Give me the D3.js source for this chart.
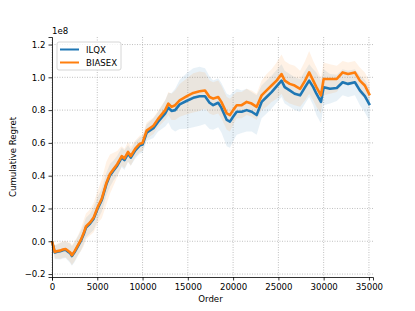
<!DOCTYPE html>
<html>
<head>
<meta charset="utf-8">
<script src="https://cdn.jsdelivr.net/npm/d3@7"></script>
<style>
  body { margin: 0; background: #fff; }
  svg { font-family: "DejaVu Sans", sans-serif; }
</style>
</head>
<body>
<div id="chart"></div>
<script>
// sample positions (order) and curves, in units of 1e8
const orders = [0, 300, 600, 900, 1200, 1500, 1800, 2000, 2200, 2500, 2900, 3200, 3500, 3750, 4200, 4600, 5100, 5500, 6000, 6400, 6800, 7200, 7500, 7700, 8000, 8400, 8700, 9200, 9700, 10000, 10450, 11200, 11700, 12500, 12850, 13200, 13600, 14100, 14900, 15600, 16300, 16900, 17400, 17800, 18350, 18700, 19300, 19650, 20000, 20400, 20950, 21500, 22050, 22600, 23150, 23700, 24250, 24800, 25350, 25700, 26250, 26800, 27400, 27950, 28400, 28850, 29200, 29700, 30000, 30700, 31450, 32100, 32700, 33450, 34000, 34550, 35100];

const biasex = [0.0, -0.065, -0.06, -0.057, -0.05, -0.047, -0.06, -0.067, -0.085, -0.06, -0.02, 0.01, 0.05, 0.09, 0.115, 0.145, 0.215, 0.26, 0.355, 0.41, 0.44, 0.47, 0.50, 0.52, 0.505, 0.545, 0.52, 0.565, 0.595, 0.60, 0.675, 0.705, 0.745, 0.80, 0.84, 0.82, 0.83, 0.86, 0.885, 0.905, 0.915, 0.92, 0.88, 0.87, 0.88, 0.85, 0.78, 0.77, 0.80, 0.83, 0.83, 0.85, 0.84, 0.82, 0.89, 0.92, 0.95, 0.98, 1.02, 0.98, 0.96, 0.95, 0.93, 0.98, 1.03, 0.98, 0.94, 0.89, 0.99, 0.99, 0.99, 1.03, 1.02, 1.03, 0.98, 0.95, 0.89];

const ilqx = [0.0, -0.068, -0.064, -0.061, -0.055, -0.052, -0.065, -0.072, -0.09, -0.066, -0.026, 0.004, 0.043, 0.083, 0.108, 0.138, 0.207, 0.252, 0.347, 0.402, 0.432, 0.461, 0.491, 0.511, 0.495, 0.535, 0.51, 0.555, 0.585, 0.59, 0.662, 0.69, 0.728, 0.78, 0.815, 0.795, 0.80, 0.835, 0.857, 0.875, 0.885, 0.885, 0.845, 0.83, 0.845, 0.815, 0.74, 0.73, 0.76, 0.79, 0.79, 0.80, 0.79, 0.77, 0.85, 0.88, 0.91, 0.945, 0.98, 0.94, 0.92, 0.90, 0.89, 0.94, 0.98, 0.94, 0.90, 0.85, 0.94, 0.93, 0.935, 0.97, 0.96, 0.97, 0.92, 0.885, 0.83];

// half-width of the shaded bands
const biasexSpread = [0.0, 0.04, 0.045, 0.05, 0.05, 0.05, 0.055, 0.06, 0.06, 0.06, 0.06, 0.07, 0.08, 0.08, 0.08, 0.09, 0.1, 0.12, 0.13, 0.12, 0.1, 0.08, 0.07, 0.06, 0.06, 0.06, 0.06, 0.05, 0.05, 0.05, 0.05, 0.05, 0.05, 0.06, 0.07, 0.08, 0.09, 0.1, 0.11, 0.12, 0.12, 0.11, 0.1, 0.1, 0.1, 0.1, 0.1, 0.1, 0.09, 0.08, 0.08, 0.08, 0.08, 0.08, 0.09, 0.1, 0.1, 0.11, 0.12, 0.12, 0.12, 0.12, 0.11, 0.12, 0.13, 0.12, 0.12, 0.11, 0.1, 0.09, 0.08, 0.07, 0.07, 0.07, 0.08, 0.08, 0.08];

const ilqxSpread = [0.0, 0.04, 0.045, 0.05, 0.05, 0.05, 0.055, 0.06, 0.06, 0.06, 0.06, 0.06, 0.06, 0.06, 0.06, 0.07, 0.07, 0.07, 0.07, 0.07, 0.06, 0.06, 0.06, 0.06, 0.06, 0.05, 0.05, 0.05, 0.05, 0.05, 0.05, 0.06, 0.06, 0.08, 0.09, 0.11, 0.13, 0.15, 0.17, 0.18, 0.18, 0.17, 0.16, 0.15, 0.15, 0.15, 0.16, 0.16, 0.15, 0.14, 0.13, 0.13, 0.12, 0.12, 0.1, 0.1, 0.1, 0.1, 0.1, 0.1, 0.1, 0.1, 0.1, 0.1, 0.1, 0.11, 0.13, 0.13, 0.11, 0.09, 0.08, 0.08, 0.08, 0.08, 0.09, 0.1, 0.1];

const xTicks = [0, 5000, 10000, 15000, 20000, 25000, 30000, 35000];
const yTicks = [-0.2, 0.0, 0.2, 0.4, 0.6, 0.8, 1.0, 1.2];
const seriesNames = ['ILQX', 'BIASEX'];
const seriesColors = ['#1f77b4', '#ff7f0e'];

const width = 415, height = 311;
const margin = { left: 52, right: 42, top: 37, bottom: 34 };

const svg = d3.select('#chart').append('svg')
    .attr('width', width)
    .attr('height', height);

const x = d3.scaleLinear()
    .domain([0, 35450])
    .range([margin.left, width - margin.right]);

const y = d3.scaleLinear()
    .domain([-0.218, 1.246])
    .range([height - margin.bottom, margin.top]);

// grid
const grid = svg.append('g');
grid.selectAll('line.gx').data(xTicks).enter().append('line')
    .attr('x1', d => x(d)).attr('x2', d => x(d))
    .attr('y1', margin.top).attr('y2', height - margin.bottom)
    .attr('stroke', '#b0b0b0').attr('stroke-width', 0.8)
    .attr('stroke-dasharray', '1,1.5');
grid.selectAll('line.gy').data(yTicks).enter().append('line')
    .attr('x1', margin.left).attr('x2', width - margin.right)
    .attr('y1', d => y(d)).attr('y2', d => y(d))
    .attr('stroke', '#b0b0b0').attr('stroke-width', 0.8)
    .attr('stroke-dasharray', '1,1.5');

// bands then lines
const series = [
    { mean: ilqx, spread: ilqxSpread },
    { mean: biasex, spread: biasexSpread }
];

const area = d3.area()
    .x((d, i) => x(orders[i]))
    .y0(d => y(d[0] - d[1]))
    .y1(d => y(d[0] + d[1]));

series.forEach((s, k) => {
    const pts = s.mean.map((m, i) => [m, s.spread[i]]);
    svg.append('path')
        .datum(pts)
        .attr('d', area)
        .attr('fill', seriesColors[k])
        .attr('fill-opacity', 0.1);
});

const line = d3.line()
    .x((d, i) => x(orders[i]))
    .y(d => y(d));

series.forEach((s, k) => {
    svg.append('path')
        .datum(s.mean)
        .attr('d', line)
        .attr('fill', 'none')
        .attr('stroke', seriesColors[k])
        .attr('stroke-width', 2.6)
        .attr('stroke-linejoin', 'round');
});

// axes
const fmtY = d => d3.format('.1f')(d).replace('-', '\u2212');
const xAxis = d3.axisBottom(x).tickValues(xTicks).tickFormat(d3.format('d')).tickSize(3.5).tickPadding(3);
const yAxis = d3.axisLeft(y).tickValues(yTicks).tickFormat(fmtY).tickSize(3.5).tickPadding(3);

const gx = svg.append('g')
    .attr('transform', `translate(0,${height - margin.bottom})`)
    .call(xAxis);
const gy = svg.append('g')
    .attr('transform', `translate(${margin.left},0)`)
    .call(yAxis);

[gx, gy].forEach(g => {
    g.selectAll('text').attr('font-size', '8.6px').attr('fill', '#000')
        .attr('font-family', '"DejaVu Sans", sans-serif');
    g.selectAll('line').attr('stroke', '#000').attr('stroke-width', 0.8);
    g.select('.domain').attr('stroke', '#000').attr('stroke-width', 0.8);
});

// labels
svg.append('text')
    .attr('x', x(17500)).attr('y', 302)
    .attr('text-anchor', 'middle')
    .attr('font-size', '8.6px')
    .text('Order');

svg.append('text')
    .attr('transform', `translate(16,${(margin.top + height - margin.bottom) / 2}) rotate(-90)`)
    .attr('text-anchor', 'middle')
    .attr('font-size', '8.6px')
    .text('Cumulative Regret');

svg.append('text')
    .attr('x', margin.left).attr('y', 34)
    .attr('font-size', '8.6px')
    .text('1e8');

// legend
const legend = svg.append('g').attr('transform', 'translate(57,42)');
legend.append('rect')
    .attr('width', 64).attr('height', 28)
    .attr('rx', 2)
    .attr('fill', '#fff').attr('fill-opacity', 0.8)
    .attr('stroke', '#cccccc').attr('stroke-width', 0.8);

seriesNames.forEach((name, i) => {
    const row = legend.append('g').attr('transform', `translate(0,${7.5 + i * 13})`);
    row.append('line')
        .attr('x1', 3).attr('x2', 22)
        .attr('stroke', seriesColors[i]).attr('stroke-width', 2);
    row.append('text')
        .attr('x', 29).attr('y', 3)
        .attr('font-size', '8.6px')
        .text(name);
});
</script>
</body>
</html>
